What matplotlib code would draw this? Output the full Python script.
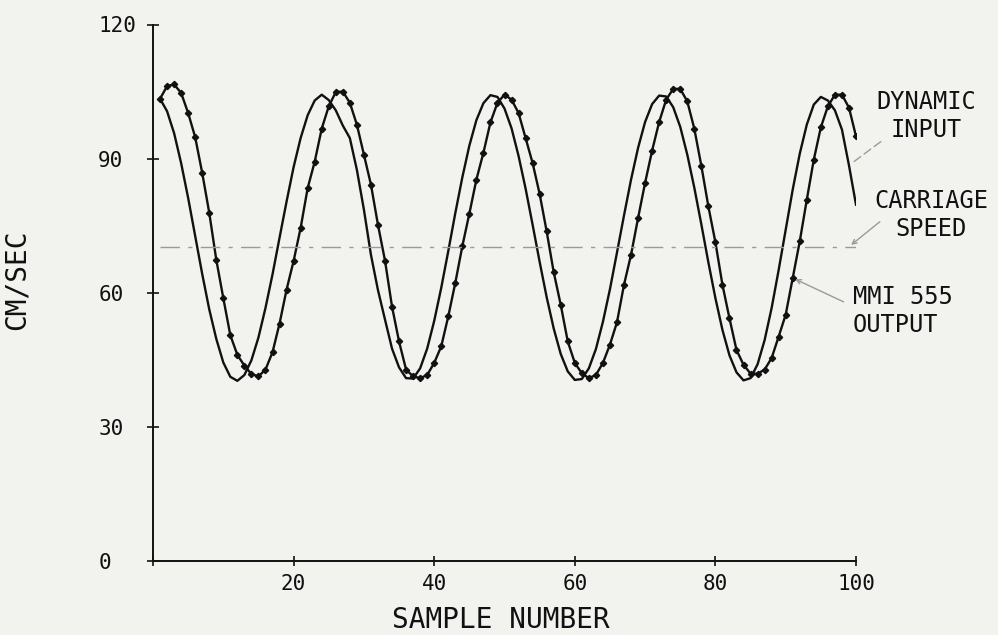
import matplotlib
matplotlib.use("Agg")
import matplotlib.pyplot as plt

# ---------------- data ----------------
sample_number = list(range(1, 101))

dynamic_input = [
    103.4, 100.6, 95.7, 89.0, 81.2, 72.7, 64.2, 56.3, 49.7, 44.4,
    41.2, 40.3, 41.6, 44.9, 50.0, 56.6, 64.1, 72.3, 80.4, 88.1,
    94.6, 99.7, 103.0, 104.3, 103.1, 100.8, 97.4, 94.6, 87.5, 78.6,
    68.5, 60.6, 54.0, 47.5, 43.3, 40.9, 40.8, 43.1, 47.5, 53.7,
    61.1, 69.3, 77.8, 85.8, 92.9, 98.6, 102.4, 104.2, 103.8, 101.2,
    96.8, 90.6, 83.3, 75.2, 66.9, 59.0, 52.0, 46.3, 42.4, 40.5,
    40.7, 43.1, 47.4, 53.5, 60.8, 69.0, 77.3, 85.3, 92.4, 98.2,
    102.2, 104.1, 103.9, 101.5, 97.1, 90.9, 83.5, 75.3, 66.8, 58.8,
    51.7, 46.0, 42.2, 40.4, 40.9, 44.0, 49.4, 56.6, 65.1, 74.1,
    83.1, 91.1, 97.6, 102.1, 103.8, 103.0, 100.8, 96.5, 88.5, 79.7,
]

mmi555_output = [
    103.4, 106.2, 106.6, 104.7, 100.2, 94.8, 86.8, 77.9, 67.4, 58.8,
    50.5, 46.1, 43.7, 41.8, 41.3, 42.8, 46.7, 53.1, 60.7, 67.1,
    74.5, 83.4, 89.3, 96.7, 101.7, 104.9, 105.0, 102.5, 97.6, 90.9,
    84.2, 75.2, 67.2, 56.9, 49.1, 42.8, 41.3, 40.9, 41.6, 44.3,
    48.0, 54.7, 62.2, 70.4, 77.7, 85.3, 91.3, 98.1, 102.5, 104.3,
    103.2, 100.2, 94.6, 89.0, 82.1, 73.7, 64.6, 57.3, 49.1, 44.3,
    42.0, 40.9, 41.6, 44.3, 48.4, 53.4, 61.8, 68.5, 76.7, 84.6,
    91.8, 98.2, 103.2, 105.6, 105.6, 102.8, 96.7, 88.4, 79.3, 71.3,
    61.8, 54.3, 47.2, 43.9, 41.9, 41.9, 42.8, 45.4, 50.2, 55.1,
    63.3, 71.5, 80.8, 89.8, 97.0, 101.7, 104.3, 104.3, 101.4, 95.0,
]

carriage_speed = 70.3

x_ticks = [0, 20, 40, 60, 80, 100]
x_tick_labels = ["", "20", "40", "60", "80", "100"]
y_ticks = [0, 30, 60, 90, 120]
y_tick_labels = ["0", "30", "60", "90", "120"]

# ---------------- style ----------------
BG = "#f2f2ef"
INK = "#111111"
GREY = "#9a9a9a"
FONT = ["DejaVu Sans Mono", "DejaVu Sans"]
plt.rcParams["font.family"] = FONT

W, H = 998, 635
fig = plt.figure(figsize=(W / 100, H / 100), dpi=100, facecolor=BG)
ax = fig.add_axes([153 / W, 1 - 561 / H, 703 / W, (561 - 24.5) / H])
ax.set_facecolor(BG)

# curves
ax.plot(sample_number, dynamic_input, color=INK, lw=1.7, solid_joinstyle="round")
ax.plot(sample_number, mmi555_output, color=INK, lw=1.7, marker="D", ms=3.2,
        markerfacecolor=INK, markeredgecolor=INK)
ax.plot([sample_number[0], sample_number[-1]], [carriage_speed, carriage_speed],
        color=GREY, lw=1.0, linestyle=(0, (14, 6, 3, 6)))

# axes
ax.set_xlim(0, 100)
ax.set_ylim(0, 120)
for s in ("top", "right"):
    ax.spines[s].set_visible(False)
for s in ("left", "bottom"):
    ax.spines[s].set_color(INK)
    ax.spines[s].set_linewidth(1.4)

ax.set_xticks(x_ticks)
ax.set_xticklabels(x_tick_labels)
ax.set_yticks(y_ticks)
ax.set_yticklabels(y_tick_labels)
ax.tick_params(axis="x", direction="inout", length=7, width=1.2, colors=INK,
               labelsize=15, pad=6)
ax.tick_params(axis="y", direction="inout", length=9, width=1.2, colors=INK,
               labelsize=15, pad=35)
for lab in ax.get_yticklabels():
    lab.set_horizontalalignment("left")

# axis titles
fig.text(501 / W, 1 - 620 / H, "SAMPLE NUMBER", ha="center", va="center",
         fontsize=20, color=INK)
fig.text(17 / W, 1 - 280 / H, "CM/SEC", ha="center", va="center",
         rotation=90, fontsize=20, color=INK)

# curve labels
def ftext(px, py, s, ha="center"):
    fig.text(px / W, 1 - py / H, s, ha=ha, va="center", fontsize=17,
             color=INK, linespacing=1.25)

ftext(926, 116, "DYNAMIC\nINPUT")
ftext(931, 215, "CARRIAGE\nSPEED")
ftext(853, 311, "MMI 555\nOUTPUT", ha="left")

# leader lines
leader = dict(arrowstyle="-", color=GREY, lw=1.0, linestyle=(0, (6, 3)))
ax.annotate("", xy=(sample_number[98], dynamic_input[98]), xycoords="data",
            xytext=(883, H - 140), textcoords="figure pixels", arrowprops=leader)
ax.annotate("", xy=(sample_number[98], carriage_speed), xycoords="data",
            xytext=(882, H - 220), textcoords="figure pixels",
            arrowprops=dict(arrowstyle="->", color=GREY, lw=1.0,
                            mutation_scale=8))
ax.annotate("", xy=(sample_number[90], mmi555_output[90]), xycoords="data",
            xytext=(846, H - 303), textcoords="figure pixels",
            arrowprops=dict(arrowstyle="->", color=GREY, lw=1.0,
                            mutation_scale=8))

fig.savefig("out.png", dpi=100, facecolor=BG)
